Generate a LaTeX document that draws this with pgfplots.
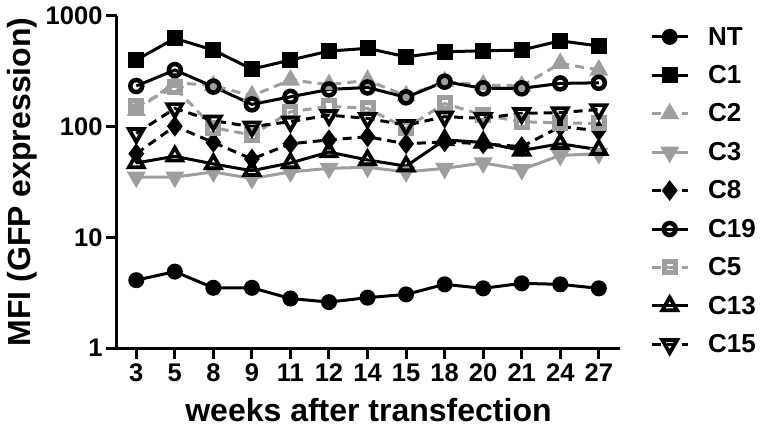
\documentclass[border=0pt]{standalone}
\usepackage{fontspec}
\setmainfont{Liberation Sans}
\usepackage{pgfplots}
\usepackage{pgfplotstable}
\pgfplotsset{compat=1.18}
\definecolor{pgray}{RGB}{158,158,158}
\pgfplotstableread{
idx wk NT C1 C2 C3 C8 C19 C5 C13 C15
0 3 4.1 400 140 35 57 233 153 47 87
1 5 4.9 628 250 35 101 325 226 54 146
2 8 3.5 492 235 39 72 230 98 46 113
3 9 3.5 331 190 34 51 159 84 40 100
4 11 2.8 400 264 39 70 186 136 47 111
5 12 2.6 482 240 42 76 217 153 59 127
6 14 2.85 510 262 43 81 226 146 50 119
7 15 3.05 428 190 39 70 184 97 44 103
8 18 3.76 475 255 42 73 255 162 76 123
9 20 3.46 485 238 47 70 222 127 72 119
10 21 3.84 492 233 41 66 222 111 61 132
11 24 3.76 597 373 55 100 246 108 70 134
12 27 3.46 535 325 57 92 249 107 62 143
}\datatable
\begin{document}
\begin{tikzpicture}
\useasboundingbox (-117pt,-86pt) rectangle (645pt,348pt);
\begin{axis}[
  scale only axis, width=503pt, height=332pt,
  ymode=log, ymin=1, ymax=1000,
  xmin=-0.5, xmax=12.55,
  axis x line*=bottom, axis y line*=left,
  axis line style={line width=3pt, black},
  xtick={0,...,12}, xticklabels={3,5,8,9,11,12,14,15,18,20,21,24,27},
  ytick={1,10,100,1000}, yticklabels={1,10,100,1000},
  yminorticks=false,
  tick style={line width=3pt, black},
  tick align=outside, major tick length=11pt,
  ticklabel style={font=\fontsize{25.5}{25.5}\selectfont\bfseries},
  xticklabel style={yshift=-1pt},
  xlabel={weeks after transfection},
  ylabel={MFI (GFP expression)},
  every axis x label/.style={at={([yshift=-62pt]rel axis cs:0.5,0)}, anchor=center, font=\fontsize{32}{32}\selectfont\bfseries},
  every axis y label/.style={at={([xshift=-95pt]rel axis cs:0,0.5)}, anchor=center, rotate=90, font=\fontsize{32}{32}\selectfont\bfseries},
  legend style={draw=none, fill=none, at={(rel axis cs:1,1)}, anchor=north west, xshift=27pt, yshift=-7pt,
    font=\fontsize{26}{26}\selectfont\bfseries, row sep=14.8pt,
    /tikz/every odd column/.append style={column sep=17pt}},
  legend cell align=left,
  legend image code/.code={\draw[mark repeat=2,mark phase=2,#1] plot coordinates {(0pt,0pt)(18pt,0pt)(36pt,0pt)};},
  every axis plot/.append style={line width=3pt},
  clip=false,
]
\addplot[black, mark=*, mark size=6.5pt] table[x=idx, y=NT] {\datatable};
\addlegendentry{NT}
\addplot[black, mark=square*, mark size=6.5pt] table[x=idx, y=C1] {\datatable};
\addlegendentry{C1}
\addplot[pgray, dash pattern=on 9pt off 6pt, mark=triangle*, mark size=8pt, mark options={solid}] table[x=idx, y=C2] {\datatable};
\addlegendentry{C2}
\addplot[pgray, mark=triangle*, mark size=8pt, mark options={solid, rotate=180}] table[x=idx, y=C3] {\datatable};
\addlegendentry{C3}
\addplot[black, dash pattern=on 9pt off 6pt, mark=diamond*, mark size=8pt, mark options={solid}] table[x=idx, y=C8] {\datatable};
\addlegendentry{C8}
\addplot[black, mark=o, mark size=6pt, mark options={solid, line width=4.5pt}] table[x=idx, y=C19] {\datatable};
\addlegendentry{C19}
\addplot[pgray, dash pattern=on 9pt off 6pt, mark=square, mark size=5.5pt, mark options={solid, line width=5pt}] table[x=idx, y=C5] {\datatable};
\addlegendentry{C5}
\addplot[black, mark=triangle, mark size=8.5pt, mark options={solid, line width=3.8pt}] table[x=idx, y=C13] {\datatable};
\addlegendentry{C13}
\addplot[black, dash pattern=on 9pt off 6pt, mark=triangle, mark size=8.5pt, mark options={solid, rotate=180, line width=3.8pt}] table[x=idx, y=C15] {\datatable};
\addlegendentry{C15}
\end{axis}
\end{tikzpicture}
\end{document}
